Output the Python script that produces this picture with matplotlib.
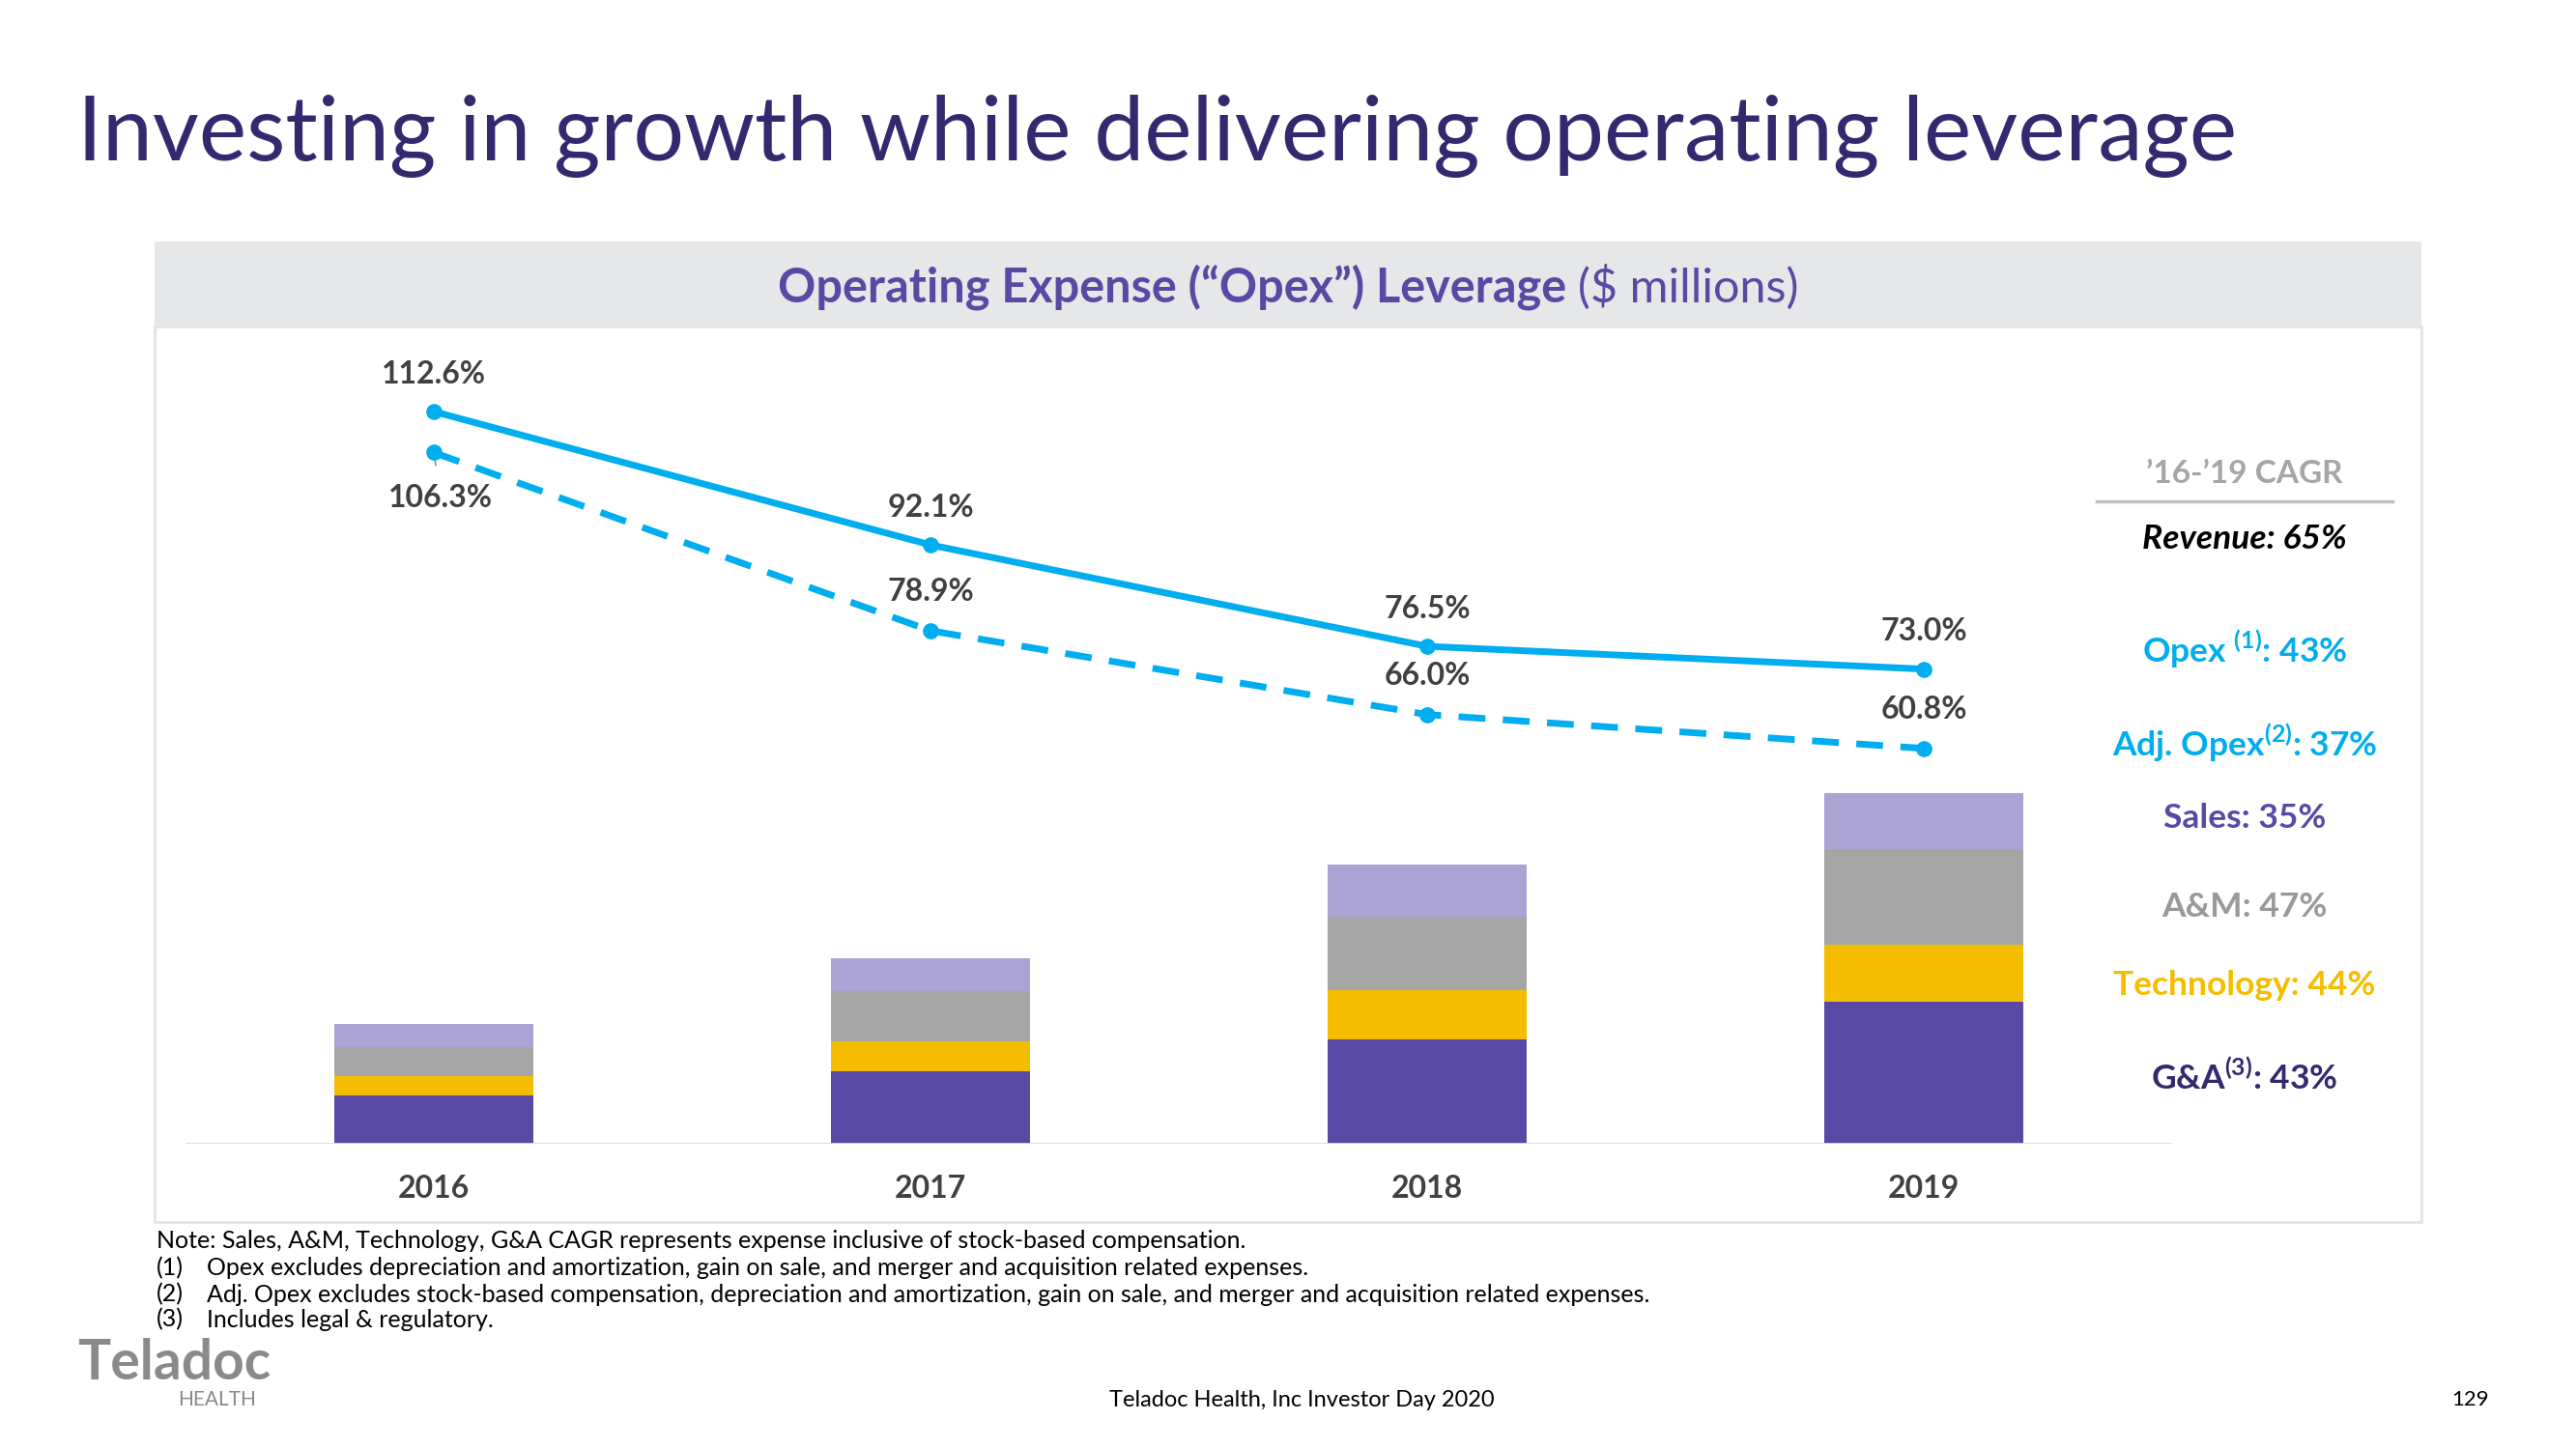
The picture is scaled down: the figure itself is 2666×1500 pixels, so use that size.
import matplotlib
matplotlib.use("Agg")
import matplotlib.pyplot as plt
from matplotlib.patches import Rectangle
from matplotlib.lines import Line2D

# ---------------------------------------------------------------------------
# DATA
# ---------------------------------------------------------------------------
years = ["2016", "2017", "2018", "2019"]

# stacked expense components ($ millions)
ga = [62, 94, 135, 184]
technology = [25, 39, 64, 73]
am = [38, 65, 95, 124]
sales = [30, 42, 67, 73]

# opex as % of revenue
opex_pct = [112.6, 92.1, 76.5, 73.0]
adj_opex_pct = [106.3, 78.9, 66.0, 60.8]

cagr_labels = ["Revenue: 65%", "Opex $^{\\mathrm{(1)}}$: 43%", "Adj. Opex$^{\\mathrm{(2)}}$: 37%",
               "Sales: 35%", "A&M: 47%", "Technology: 44%", "G&A$^{\\mathrm{(3)}}$: 43%"]

notes = [
    "Note: Sales, A&M, Technology, G&A CAGR represents expense inclusive of stock-based compensation.",
    "Opex excludes depreciation and amortization, gain on sale, and merger and acquisition related expenses.",
    "Adj. Opex excludes stock-based compensation, depreciation and amortization, gain on sale, and merger and acquisition related expenses.",
    "Includes legal & regulatory.",
]

# ---------------------------------------------------------------------------
# STYLE
# ---------------------------------------------------------------------------
FONT = "Lato"
plt.rcParams["font.family"] = [FONT, "DejaVu Sans"]
plt.rcParams["mathtext.fontset"] = "custom"
plt.rcParams["mathtext.rm"] = "Lato:bold"
plt.rcParams["mathtext.bf"] = "Lato:bold"

PURPLE = "#584aa4"
LAVENDER = "#aba3d3"
GRAY = "#a5a5a5"
YELLOW = "#f5bd00"
CYAN = "#00aeef"
DARK = "#35286e"
LABEL = "#404040"

W, H = 2666, 1500
fig = plt.figure(figsize=(W / 100, H / 100), dpi=100)


def px(x, y):
    return x / W, 1 - y / H


def ftext(x, y, s, **kw):
    fx, fy = px(x, y)
    return fig.text(fx, fy, s, **kw)


# title
ftext(80, 166, "Investing in growth while delivering operating leverage",
      fontsize=67, color=DARK, ha="left", va="baseline")

# chart panel + header band (behind the axes)
fig.patches.append(Rectangle(px(160, 1265), 2346 / W, 927 / H, transform=fig.transFigure,
                             facecolor="white", edgecolor="#e3e3e3", linewidth=2, zorder=-2))
fig.patches.append(Rectangle(px(160, 338), 2346 / W, 88 / H, transform=fig.transFigure,
                             facecolor="#e6e7e8", edgecolor="none", zorder=-1))
t1 = ftext(0, 297, "Operating Expense (\u201cOpex\u201d) Leverage ", fontsize=35,
           fontweight="bold", color=PURPLE, ha="left", va="center")
t2 = ftext(0, 297, "($ millions)", fontsize=35, color=PURPLE, ha="left", va="center")
r = fig.canvas.get_renderer()
w1 = t1.get_window_extent(r).width
w2 = t2.get_window_extent(r).width
x0 = 1333 - (w1 + w2) / 2
t1.set_x(x0 / W)
t2.set_x((x0 + w1) / W)

# ---------------------------------------------------------------------------
# BARS + LINES
# ---------------------------------------------------------------------------
ax = fig.add_axes([192 / W, 1 - 1184 / H, (2248 - 192) / W, (1184 - 350) / H])
ax.set_facecolor("none")
x = range(len(years))
bottom = [0] * len(years)
for vals, col in [(ga, PURPLE), (technology, YELLOW), (am, GRAY), (sales, LAVENDER)]:
    ax.bar(x, vals, width=0.4, bottom=bottom, color=col, zorder=2)
    bottom = [b + v for b, v in zip(bottom, vals)]
ax.set_xlim(-0.5, 3.5)
ax.set_ylim(0, 1042.5)
ax.axhline(0, color="#d9d9d9", lw=2, zorder=3)
for s in ax.spines.values():
    s.set_visible(False)
ax.set_yticks([])
ax.set_xticks(list(x))
ax.set_xticklabels(years, fontsize=23, fontweight="bold", color=LABEL)
ax.tick_params(axis="x", length=0, pad=23)

ax2 = ax.twinx()
ax2.set_ylim(0, 123.9)
ax2.axis("off")
ax2.plot(x, opex_pct, color=CYAN, lw=5, marker="o", ms=11, zorder=4)
ax2.plot(x, adj_opex_pct, color=CYAN, lw=5, ls=(0, (4, 2.6)), marker="o", ms=11, zorder=4)

for i, v in enumerate(opex_pct):
    ax2.annotate(f"{v:.1f}%", (i, v), xytext=(0, 28), textcoords="offset points",
                 ha="center", va="center", fontsize=23, fontweight="bold", color=LABEL)
for i, v in enumerate(adj_opex_pct):
    if i == 0:
        ax2.annotate(f"{v:.1f}%", (i, v), xytext=(5, -34), textcoords="offset points",
                     ha="center", va="center", fontsize=23, fontweight="bold", color=LABEL,
                     arrowprops=dict(arrowstyle="-", color="#909090", lw=1.2,
                                     shrinkA=12, shrinkB=2))
    else:
        ax2.annotate(f"{v:.1f}%", (i, v), xytext=(0, 29), textcoords="offset points",
                     ha="center", va="center", fontsize=23, fontweight="bold", color=LABEL)

# ---------------------------------------------------------------------------
# CAGR PANEL
# ---------------------------------------------------------------------------
ftext(2323, 490, "\u201916-\u201919 CAGR", fontsize=24, fontweight="bold",
      color="#a6a6a6", ha="center", va="center")
fig.lines.append(Line2D([2170 / W, 2476 / W], [1 - 519 / H] * 2, transform=fig.transFigure,
                        color="#bfbfbf", lw=2.5))
cagr_pos = [558, 672, 769, 847, 939, 1020, 1115]
cagr_cols = ["black", CYAN, CYAN, PURPLE, "#999999", YELLOW, DARK]
for lab, y, c in zip(cagr_labels, cagr_pos, cagr_cols):
    style = "italic" if lab.startswith("Revenue") else "normal"
    ftext(2323, y, lab, fontsize=25.5, fontweight="bold", style=style, color=c,
          ha="center", va="center")

# ---------------------------------------------------------------------------
# NOTES + FOOTER
# ---------------------------------------------------------------------------
ftext(162, 1285, notes[0], fontsize=18, color="black", ha="left", va="center")
for k, (n, y) in enumerate(zip(notes[1:], [1313, 1340, 1366]), 1):
    ftext(162, y, f"({k})", fontsize=18, color="black", ha="left", va="center")
    ftext(214, y, n, fontsize=18, color="black", ha="left", va="center")

ftext(80, 1411, "Teladoc", fontsize=41, fontweight="bold", color="#8a8a8a",
      ha="left", va="center")
ftext(184, 1449, "HEALTH", fontsize=15, color="#8a8a8a", ha="left", va="center")
ftext(1347, 1449, "Teladoc Health, Inc Investor Day 2020", fontsize=17, color="black",
      ha="center", va="center")
ftext(2557, 1449, "129", fontsize=16, color="black", ha="center", va="center")

fig.savefig("out.png", dpi=100)
